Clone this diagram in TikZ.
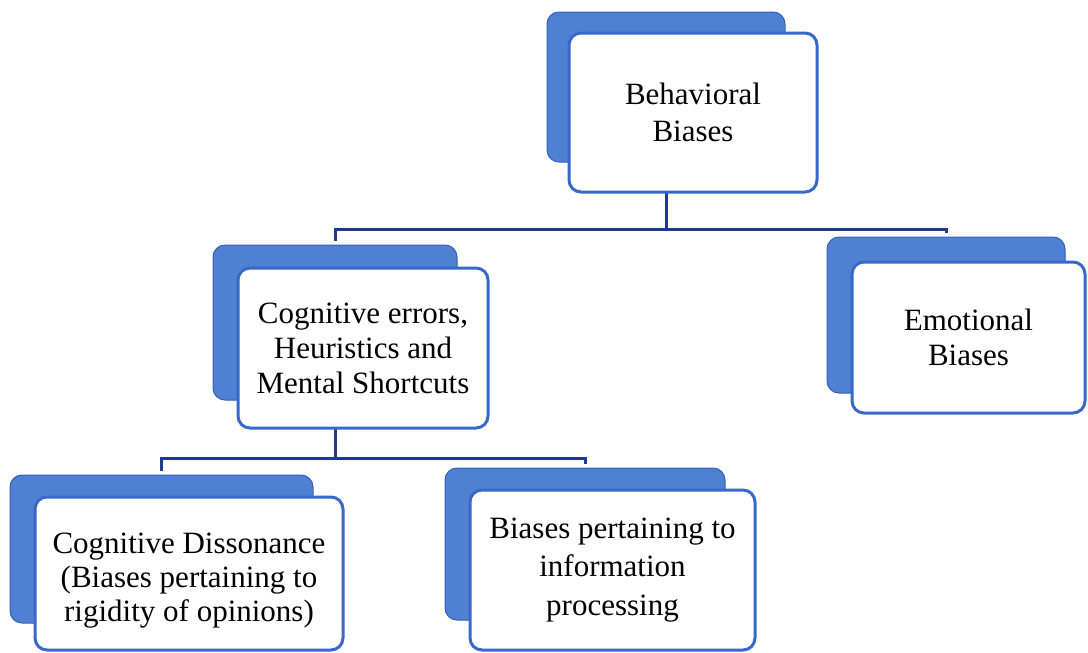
\documentclass[tikz,border=0pt]{standalone}
\usepackage{fontspec}
\setmainfont{Liberation Serif}
\usetikzlibrary{backgrounds}
\definecolor{backblue}{RGB}{80,128,210}
\definecolor{backedge}{RGB}{52,96,186}
\definecolor{frontedge}{RGB}{56,104,200}
\definecolor{linkblue}{RGB}{32,58,145}
\tikzset{
  backcard/.style={draw=backedge, line width=1pt, fill=backblue, rounded corners=12pt,
    minimum width=#1, inner sep=0pt},
  frontcard/.style={draw=frontedge, line width=3pt, fill=white, rounded corners=12pt,
    align=center, inner sep=0pt, font=\fontsize{31}{35}\selectfont},
  cardtext/.style={align=center, inner sep=0pt, font=\fontsize{31}{34}\selectfont},
  link/.style={draw=linkblue, line width=3pt, line join=miter},
}
\begin{document}
\begin{tikzpicture}[x=1pt, y=-1pt]
  \useasboundingbox (0,0) rectangle (1088,653);
  % level 0
  \node[backcard=238pt, minimum height=150pt] (topb) at (666,87) {};
  \node[frontcard, minimum width=248pt, minimum height=159pt,
        font=\fontsize{31}{37}\selectfont] (top) at (693,112.5)
    {Behavioral\\Biases};
  % level 1
  \node[backcard=244pt, minimum height=155pt] (cogb) at (335,322.5) {};
  \node[frontcard, minimum width=250pt, minimum height=160pt] (cog) at (363,348)
    {Cognitive errors,\\Heuristics and\\Mental Shortcuts};
  \node[backcard=238pt, minimum height=156pt] (emob) at (946,315) {};
  \node[frontcard, minimum width=233pt, minimum height=151pt] (emo) at (968.5,337.5)
    {Emotional\\Biases};
  % level 2
  \node[backcard=303pt, minimum height=148pt] (cdb) at (161.5,549) {};
  \node[frontcard, minimum width=308pt, minimum height=153pt] (cd) at (189,573.5) {};
  \node[cardtext] (cdtext) at ([yshift=-7pt]cd.center)
    {Cognitive Dissonance\\(Biases pertaining to\\rigidity of opinions)};
  \node[backcard=280pt, minimum height=152pt] (bpb) at (585,544) {};
  \node[frontcard, minimum width=285pt, minimum height=160pt,
        font=\fontsize{31}{38.5}\selectfont] (bp) at (612.5,570)
    {Biases pertaining to\\information\\processing};
  % connectors
  \coordinate (h1) at (0,229);
  \coordinate (h2) at (0,458);
  \begin{scope}[on background layer]
    \draw[link] (topb.center) -- (topb |- h1);
    \draw[link, shorten <=4pt, shorten >=4pt]
      (cogb.north) -- (cogb |- h1) -- (emob |- h1) -- (emob.north);
    \draw[link] (cogb.center) -- (cogb |- h2);
    \draw[link, shorten <=4pt, shorten >=4pt]
      (cdb.north) -- (cdb |- h2) -- (bpb |- h2) -- (bpb.north);
  \end{scope}
\end{tikzpicture}
\end{document}
